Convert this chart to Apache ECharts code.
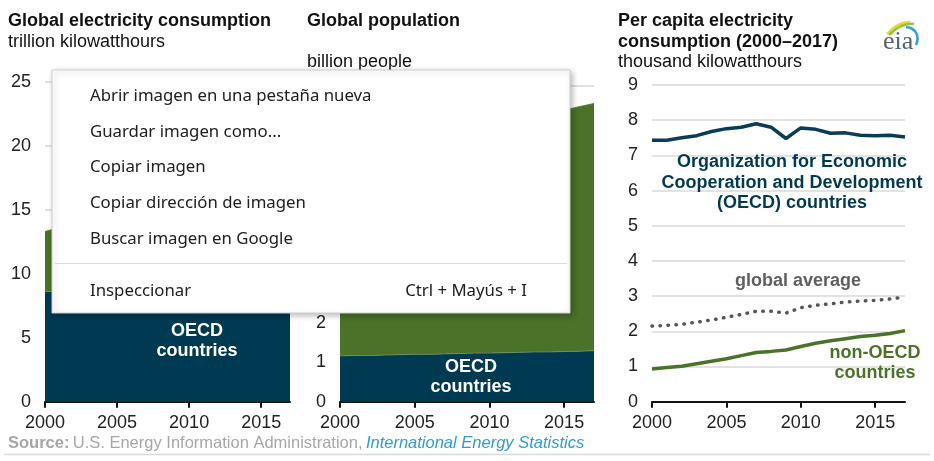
<!DOCTYPE html>
<html><head><meta charset="utf-8">
<script src="https://cdn.jsdelivr.net/npm/echarts@6/dist/echarts.min.js"></script>
<style>html,body{margin:0;padding:0;background:#fff}#c{width:934px;height:461px}</style>
</head><body><div id="c"></div>
<script>
const years = ['2000','2001','2002','2003','2004','2005','2006','2007','2008','2009','2010','2011','2012','2013','2014','2015','2016','2017'];
// Global electricity consumption (trillion kWh)
const elecOECD    = [8.6, 8.6, 8.75, 8.9, 9.1, 9.25, 9.35, 9.55, 9.5, 9.15, 9.55, 9.55, 9.5, 9.55, 9.5, 9.55, 9.6, 9.65];
const elecNonOECD = [4.7, 5.0, 5.25, 5.6, 6.0, 6.35, 6.85, 7.35, 7.7, 7.95, 8.65, 9.25, 9.8, 10.25, 10.8, 11.05, 11.6, 12.25];
// Global population (billion people)
const popOECD    = [1.16, 1.17, 1.17, 1.18, 1.19, 1.20, 1.20, 1.21, 1.22, 1.23, 1.23, 1.24, 1.25, 1.26, 1.26, 1.27, 1.28, 1.29];
const popNonOECD = [4.98, 5.05, 5.13, 5.20, 5.27, 5.34, 5.42, 5.50, 5.57, 5.64, 5.73, 5.80, 5.88, 5.95, 6.04, 6.11, 6.19, 6.26];
// Per capita electricity consumption (thousand kWh)
const pcOECD    = [7.43, 7.43, 7.50, 7.56, 7.68, 7.76, 7.80, 7.90, 7.80, 7.48, 7.78, 7.74, 7.63, 7.64, 7.57, 7.56, 7.57, 7.52];
const pcGlobal  = [2.15, 2.17, 2.20, 2.26, 2.32, 2.40, 2.48, 2.57, 2.57, 2.52, 2.67, 2.74, 2.78, 2.83, 2.86, 2.88, 2.92, 2.97];
const pcNonOECD = [0.93, 0.97, 1.01, 1.08, 1.15, 1.22, 1.31, 1.40, 1.43, 1.47, 1.57, 1.66, 1.73, 1.79, 1.85, 1.89, 1.94, 2.02];
const menuItems = ['Abrir imagen en una pestaña nueva','Guardar imagen como...','Copiar imagen','Copiar dirección de imagen','Buscar imagen en Google'];

const NAVY = '#003a52', GREEN = '#4a7229', GRAY = '#5f5f5f';
const FONT = 'Liberation Sans, Arial, sans-serif';
const MFONT = '16.8px Noto Sans, Open Sans, sans-serif';
const chart = echarts.init(document.getElementById('c'), null, {renderer:'canvas'});

function xAxis(i){
  return {type:'category', gridIndex:i, data:years, boundaryGap:false,
    axisLine:{lineStyle:{color:'#111', width:2}},
    axisTick:{show:true, interval:4, length:6, lineStyle:{color:'#111', width:2}},
    axisLabel:{interval:4, fontSize:18, color:'#222', fontFamily:FONT, margin:12}};
}
function yAxis(i, max){
  return {type:'value', gridIndex:i, min:0, max:max, interval: max===25?5:1,
    axisLine:{show:false}, axisTick:{show:false},
    axisLabel:{fontSize:18, color:'#222', fontFamily:FONT, margin:14},
    splitLine:{lineStyle:{color:'#d9d9d9', width:1.5}}};
}
function txt(x, y, text, opt){
  return {type:'text', x:x, y:y, z:50, style:Object.assign({text:text, font:'18px '+FONT, fill:'#111', verticalAlign:'middle', align:'left'}, opt||{})};
}
const bold = (c)=>({font:'bold 18px '+FONT, fill:c});

const graphics = [
  txt(8, 21, 'Global electricity consumption', bold('#111')),
  txt(8, 42, 'trillion kilowatthours'),
  txt(307, 21, 'Global population', bold('#111')),
  txt(307, 62, 'billion people'),
  txt(618, 21, 'Per capita electricity', bold('#111')),
  txt(618, 42, 'consumption (2000\u20132017)', bold('#111')),
  txt(618, 62, 'thousand kilowatthours'),
  txt(197, 341, 'OECD\ncountries', Object.assign(bold('#fff'), {align:'center', lineHeight:20})),
  txt(471, 377, 'OECD\ncountries', Object.assign(bold('#fff'), {align:'center', lineHeight:20})),
  txt(792, 183, 'Organization for Economic\nCooperation and Development\n(OECD) countries', Object.assign(bold(NAVY), {align:'center', lineHeight:20.5})),
  txt(798, 281, 'global average', Object.assign(bold(GRAY), {align:'center'})),
  txt(875, 363, 'non-OECD\ncountries', Object.assign(bold(GREEN), {align:'center', lineHeight:20})),
  {type:'text', x:8, y:443, z:50, style:{verticalAlign:'middle', text:'{b|Source:} {n|U.S. Energy Information Administration,} {i|International Energy Statistics}',
    rich:{b:{font:'bold 16.5px '+FONT, fill:'#a6a6a6'}, n:{font:'16.5px '+FONT, fill:'#a6a6a6'}, i:{font:'italic 16.5px '+FONT, fill:'#2e9ad9'}}}},
  {type:'line', z:50, shape:{x1:4, y1:454.5, x2:930, y2:454.5}, style:{stroke:'#d9d9d9', lineWidth:1.5}},
  // eia logo
  {type:'bezierCurve', z:50, shape:{x1:887, y1:34, x2:910, y2:22, cpx1:895, cpy1:25, cpx2:902, cpy2:22}, style:{stroke:'#f2d52b', lineWidth:2.5, fill:null}},
  {type:'bezierCurve', z:50, shape:{x1:889, y1:35, x2:914, y2:24, cpx1:897, cpy1:27, cpx2:906, cpy2:23}, style:{stroke:'#8dc63f', lineWidth:2.5, fill:null}},
  {type:'bezierCurve', z:50, shape:{x1:906, y1:27, x2:916, y2:45, cpx1:916, cpy1:28, cpx2:920, cpy2:36}, style:{stroke:'#2b9fd9', lineWidth:2.5, fill:null}},
  txt(883, 42, 'eia', {font:'26px Liberation Serif, DejaVu Serif, serif', fill:'#56606b'}),
  // context menu
  {type:'rect', z:100, shape:{x:52, y:70, width:518, height:243}, style:{fill:'#fff', stroke:'#cfcfcf', lineWidth:1, shadowBlur:6, shadowOffsetX:2, shadowOffsetY:2, shadowColor:'rgba(0,0,0,0.28)'}},
  {type:'line', z:101, shape:{x1:55, y1:263.5, x2:567, y2:263.5}, style:{stroke:'#dcdcdc', lineWidth:1.2}}
];
const menuY = [96, 132, 167, 203, 239];
menuItems.forEach((t,i)=>graphics.push({type:'text', z:101, x:90, y:menuY[i], style:{text:t, font:MFONT, fill:'#202020', verticalAlign:'middle'}}));
graphics.push({type:'text', z:101, x:90, y:291, style:{text:'Inspeccionar', font:MFONT, fill:'#202020', verticalAlign:'middle'}});
graphics.push({type:'text', z:101, x:527, y:291, style:{text:'Ctrl + Mayús + I', font:MFONT, fill:'#202020', verticalAlign:'middle', align:'right'}});

function area(name, data, color, xi, stack){
  return {name:name, type:'line', xAxisIndex:xi, yAxisIndex:xi, stack:stack, data:data, symbol:'none',
    lineStyle:{width:0.8, color: color===NAVY ? '#6f8f68' : color}, areaStyle:{color:color, opacity:1}};
}
function line(name, data, color, opts){
  return Object.assign({name:name, type:'line', xAxisIndex:2, yAxisIndex:2, data:data, symbol:'none',
    lineStyle:{width:3.5, color:color}}, opts||{});
}

chart.setOption({
  animation:false,
  grid:[
    {left:45, width:245, top:81.7, height:320},
    {left:340, width:254, top:85.7, height:316},
    {left:652, width:253, top:85, height:316.7}
  ],
  xAxis:[xAxis(0), xAxis(1), xAxis(2)],
  yAxis:[yAxis(0,25), yAxis(1,8), yAxis(2,9)],
  series:[
    area('OECD', elecOECD, NAVY, 0, 'e'),
    area('non-OECD', elecNonOECD, GREEN, 0, 'e'),
    area('OECD', popOECD, NAVY, 1, 'p'),
    area('non-OECD', popNonOECD, GREEN, 1, 'p'),
    line('OECD', pcOECD, '#0b3c55'),
    line('global average', pcGlobal, '#555', {lineStyle:{width:3.5, color:'#555', type:[0.5,7.5], cap:'round'}}),
    line('non-OECD', pcNonOECD, GREEN)
  ],
  graphic: graphics
});
</script></body></html>
